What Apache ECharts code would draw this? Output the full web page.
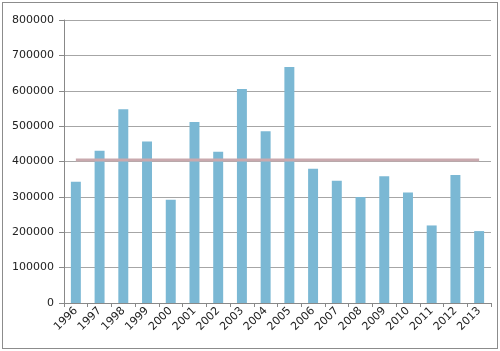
<!DOCTYPE html>
<html>
<head>
<meta charset="utf-8">
<script src="https://cdn.jsdelivr.net/npm/echarts@6/dist/echarts.min.js"></script>
<style>
  html, body { margin: 0; padding: 0; background: #fff; }
  #main { width: 500px; height: 351px; box-sizing: border-box; }
  #frame { position: absolute; left: 2px; top: 2px; width: 494px; height: 345px; border: 1px solid #8c8c8c; pointer-events: none; }
</style>
</head>
<body>
<div id="main"></div>
<div id="frame"></div>
<script>
var years = ['1996', '1997', '1998', '1999', '2000', '2001', '2002', '2003', '2004',
             '2005', '2006', '2007', '2008', '2009', '2010', '2011', '2012', '2013'];
var values = [342500, 430100, 547900, 456400, 291700, 512000, 427300, 605200, 485700,
              667300, 379300, 345400, 299300, 358600, 312400, 219200, 361500, 203300];
var average = [404000, 404000, 404000, 404000, 404000, 404000, 404000, 404000, 404000,
               404000, 404000, 404000, 404000, 404000, 404000, 404000, 404000, 404000];

var chart = echarts.init(document.getElementById('main'));
var option = {
    animation: false,
    grid: { left: 64, right: 9, top: 20, bottom: 48 },
    xAxis: {
        type: 'category',
        data: years,
        boundaryGap: true,
        axisLine: { lineStyle: { color: '#888', width: 1 } },
        axisTick: { show: true, length: 4, lineStyle: { color: '#888' } },
        axisLabel: {
            rotate: 45,
            interval: 0,
            margin: 6,
            color: '#222',
            fontSize: 11,
            fontFamily: 'DejaVu Sans'
        }
    },
    yAxis: {
        type: 'value',
        min: 0,
        max: 800000,
        interval: 100000,
        axisLine: { show: true, lineStyle: { color: '#888' } },
        axisTick: { show: true, length: 5, lineStyle: { color: '#888' } },
        axisLabel: {
            margin: 10,
            color: '#222',
            fontSize: 11,
            fontFamily: 'DejaVu Sans',
            formatter: function (v) { return String(v); }
        },
        splitLine: { lineStyle: { color: '#a6a6a6', width: 1 } }
    },
    series: [
        {
            name: 'value',
            type: 'bar',
            data: values,
            barWidth: '42%',
            itemStyle: { color: '#7bb8d4' }
        },
        {
            name: 'average',
            type: 'line',
            data: average,
            symbol: 'none',
            lineStyle: { color: '#c9a9ae', width: 3 },
            z: 3
        }
    ]
};
chart.setOption(option);
</script>
</body>
</html>
